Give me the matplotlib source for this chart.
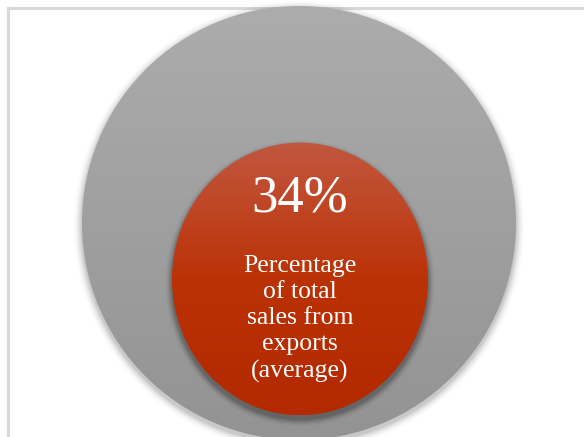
import numpy as np
import matplotlib
matplotlib.use("Agg")
import matplotlib.pyplot as plt
from matplotlib.patches import Ellipse

# data
export_share = 34  # percent
big_label = f"{export_share}%"
small_label = "Percentage\nof total\nsales from\nexports\n(average)"

W, H = 584, 437
fig = plt.figure(figsize=(W / 100, H / 100), dpi=100)
ax = fig.add_axes([0, 0, 1, 1])
ax.set_xlim(0, W)
ax.set_ylim(H, 0)
ax.axis("off")

# frame lines (left and top)
ax.plot([7.5, 7.5], [8, H], color="#d9d9d9", lw=2.2, zorder=0)
ax.plot([7.5, W], [8, 8], color="#d9d9d9", lw=2.2, zorder=0)


def gradient_ellipse(cx, cy, w, h, stops, z):
    e = Ellipse((cx, cy), w, h, facecolor="none", edgecolor="none", zorder=z)
    ax.add_patch(e)
    t = np.linspace(0, 1, 256)
    pos = [s[0] for s in stops]
    cols = np.array([matplotlib.colors.to_rgb(s[1]) for s in stops])
    img = np.stack([np.interp(t, pos, cols[:, k]) for k in range(3)], axis=-1)
    img = img[:, None, :].repeat(2, axis=1)
    im = ax.imshow(img, extent=(cx - w / 2, cx + w / 2, cy + h / 2, cy - h / 2),
                   aspect="auto", interpolation="bilinear", zorder=z)
    im.set_clip_path(e)


def shadow(cx, cy, w, h, dy, z, n=10, spread=9, alpha=0.05):
    for i in range(n):
        g = spread * (i + 1) / n
        ax.add_patch(Ellipse((cx, cy + dy), w + 2 * g, h + 2 * g,
                             facecolor="black", edgecolor="none",
                             alpha=alpha * (1 - i / n), zorder=z))


# outer circle = 100 %
ocx, ocy, od = 299, 223, 434
shadow(ocx, ocy, od, od, 3, 1, spread=9, alpha=0.04)
gradient_ellipse(ocx, ocy, od, od, [(0, "#acacac"), (1, "#939393")], 2)

# inner circle, area proportional to the share
iw = od * np.sqrt(export_share / 100) + 3
ih = iw * 1.065
icx, icy = 300, 279
shadow(icx, icy, iw, ih, 4, 3, spread=7, alpha=0.06)
gradient_ellipse(icx, icy, iw, ih,
                 [(0, "#c1573f"), (0.25, "#bf4523"), (0.5, "#bb3206"),
                  (1, "#b32900")], 4)

ax.text(icx, 198, big_label, color="white", fontsize=38,
        family="Liberation Serif", ha="center", va="center", zorder=5)
ax.text(icx, 319, small_label, color="white", fontsize=18.5,
        family="Liberation Serif", ha="center", va="center",
        linespacing=1.24, zorder=5)

fig.savefig("out.png", dpi=100)
